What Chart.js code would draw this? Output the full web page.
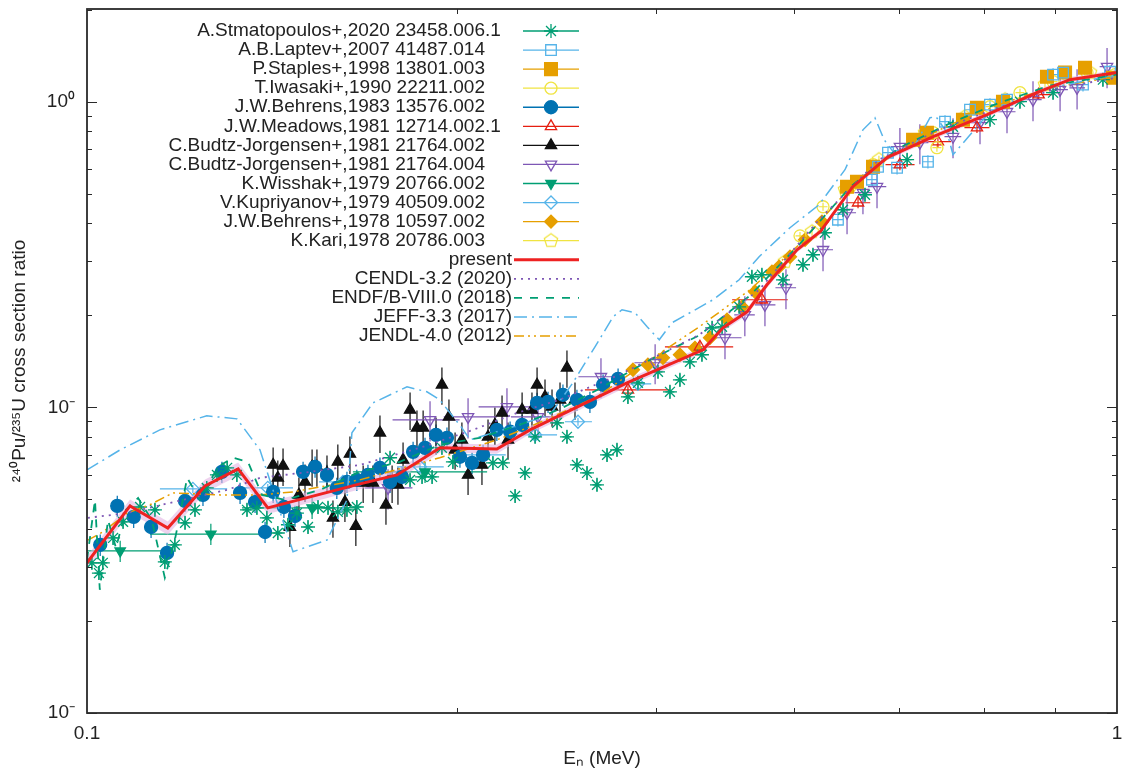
<!DOCTYPE html>
<html>
<head>
<meta charset="utf-8">
<script src="https://cdn.jsdelivr.net/npm/chart.js@4/dist/chart.umd.min.js"></script>
<style>
html, body { margin: 0; padding: 0; background: #fff; }
</style>
</head>
<body>
<canvas id="myChart" width="1124" height="774"></canvas>
<script>
// ---- axis ticks ----
const xMajorTicks = [0.1, 1]
const xMajorLabels = ['0.1', '1']
const xMinorTicks = [0.2286, 0.3571, 0.4857, 0.6143, 0.7429, 0.8714]
const yMajorTicks = [0.01, 0.1, 1]
const yMajorLabels = ['10⁻', '10⁻', '10⁰']
const yMinorTicks = [0.02, 0.03, 0.04, 0.05, 0.06, 0.07, 0.08, 0.09, 0.2, 0.3, 0.4, 0.5, 0.6, 0.7, 0.8, 0.9, 2]

// ---- experimental data ----
const stmX = [0.1011, 0.1027, 0.1036, 0.106, 0.1084, 0.1126, 0.1164, 0.119, 0.1217, 0.1245, 0.1273, 0.1307, 0.1337, 0.1368, 0.1398, 0.143, 0.1462, 0.1495, 0.1532, 0.1567, 0.1599, 0.1639, 0.1676, 0.1714, 0.1752, 0.1788, 0.1828, 0.1969, 0.2059, 0.2115, 0.2163, 0.2211, 0.2266, 0.2478, 0.2534, 0.2604, 0.2662, 0.2723, 0.286, 0.2924, 0.299, 0.3058, 0.3127, 0.3198, 0.327, 0.3351, 0.3427, 0.3584, 0.3681, 0.3764, 0.3849, 0.3954, 0.4045, 0.4136, 0.4297, 0.4421, 0.4521, 0.4739, 0.4956, 0.5068, 0.5205, 0.542, 0.5693, 0.6255, 0.6931, 0.7528, 0.805, 0.8668, 0.969]
const stmY = [0.0310, 0.0287, 0.0310, 0.0374, 0.0422, 0.0472, 0.0462, 0.0312, 0.0355, 0.0419, 0.0462, 0.0545, 0.0601, 0.0634, 0.0601, 0.0462, 0.0469, 0.0435, 0.0388, 0.0413, 0.0451, 0.0406, 0.0472, 0.0469, 0.0455, 0.0462, 0.0472, 0.0684, 0.0579, 0.0592, 0.0592, 0.0737, 0.0663, 0.0658, 0.0658, 0.0513, 0.0610, 0.0801, 0.0890, 0.0801, 0.0648, 0.0610, 0.0558, 0.0699, 0.0726, 0.1082, 0.1203, 0.1307, 0.1124, 0.1230, 0.1409, 0.1486, 0.182, 0.1834, 0.2133, 0.2674, 0.2715, 0.2614, 0.2927, 0.3157, 0.3725, 0.443, 0.496, 0.646, 0.828, 0.873, 1.0, 1.07, 1.18]

const laptevX = [0.5359, 0.5782, 0.5861, 0.5993, 0.6116, 0.6553, 0.6808, 0.7199, 0.7528, 0.782, 0.8668, 0.8864, 0.9268, 0.9845]
const laptevY = [0.411, 0.5555, 0.6126, 0.681, 0.608, 0.636, 0.860, 0.941, 0.978, 1.015, 1.226, 1.245, 1.137, 1.254]

const staplesX = [0.5469, 0.5592, 0.5796, 0.6339, 0.6538, 0.7087, 0.7312, 0.775, 0.8551, 0.8904, 0.931, 0.991]
const staplesY = [0.527, 0.547, 0.6126, 0.751, 0.7916, 0.873, 0.9559, 1.0, 1.207, 1.245, 1.292, 1.198]

const iwasakiX = [0.4923, 0.5183, 0.5506, 0.5796, 0.663, 0.6686, 0.7528, 0.805, 0.8668, 0.9352, 0.9955]
const iwasakiY = [0.364, 0.4532, 0.527, 0.622, 0.7916, 0.7069, 0.963, 1.07, 1.163, 1.245, 1.226]

const behrens83X = [0.103, 0.107, 0.111, 0.1154, 0.1196, 0.1245, 0.1296, 0.1352, 0.1408, 0.1456, 0.1489, 0.1516, 0.1553, 0.1592, 0.1621, 0.1665, 0.171, 0.1748, 0.1788, 0.1828, 0.1874, 0.1925, 0.1969, 0.2022, 0.2073, 0.2129, 0.2182, 0.2236, 0.2302, 0.2365, 0.2424, 0.25, 0.2575, 0.2645, 0.2735, 0.2803, 0.2898, 0.299, 0.3078, 0.317, 0.3278]
const behrens83Y = [0.0355, 0.0476, 0.0438, 0.0406, 0.0334, 0.0494, 0.0517, 0.0615, 0.0525, 0.0490, 0.0391, 0.0529, 0.0472, 0.0441, 0.0615, 0.0639, 0.0601, 0.0545, 0.0570, 0.0579, 0.0601, 0.0634, 0.0570, 0.0592, 0.0715, 0.0737, 0.0813, 0.0795, 0.0689, 0.0658, 0.0699, 0.0844, 0.0832, 0.0876, 0.1034, 0.1042, 0.1099, 0.1058, 0.1042, 0.1185, 0.1240]

const meadowsX = [0.3351, 0.3936, 0.4521, 0.5605, 0.6155, 0.6701, 0.7312, 0.8393]
const meadowsY = [0.1141, 0.1578, 0.2249, 0.467, 0.622, 0.7396, 0.822, 1.054]
const meadowsXlo = [0.3044, 0.364, 0.423, 0.545, 0.596, 0.650, 0.711, 0.815]
const meadowsXhi = [0.3681, 0.424, 0.479, 0.576, 0.636, 0.690, 0.752, 0.865]

const bj002X = [0.1516, 0.1532, 0.155, 0.1574, 0.1606, 0.1628, 0.1654, 0.1672, 0.171, 0.1733, 0.1752, 0.178, 0.180, 0.1824, 0.1854, 0.1895, 0.1925, 0.1951, 0.1978, 0.2004, 0.2027, 0.2059, 0.2091, 0.212, 0.2182, 0.2211, 0.2246, 0.2277, 0.2312, 0.2344, 0.2418, 0.2451, 0.2489, 0.2529, 0.2563, 0.2645, 0.2704, 0.2735, 0.2784, 0.2828, 0.2879, 0.2924, 0.2977]
const bj002Y = [0.0648, 0.0588, 0.0643, 0.0406, 0.0517, 0.0570, 0.0639, 0.0639, 0.0610, 0.0435, 0.0663, 0.0490, 0.0704, 0.0409, 0.0566, 0.0566, 0.0825, 0.0480, 0.0566, 0.0558, 0.0673, 0.0981, 0.0857, 0.0857, 0.0813, 0.1185, 0.0931, 0.0726, 0.0783, 0.0601, 0.0648, 0.0801, 0.0876, 0.0959, 0.0783, 0.0981, 0.0981, 0.1185, 0.1082, 0.1004, 0.1058, 0.1347, 0.1058]

const bj004X = [0.196, 0.2153, 0.2344, 0.2557, 0.2741, 0.3155, 0.3561, 0.4163, 0.4352, 0.4552, 0.4771, 0.5183, 0.5469, 0.5667, 0.5848, 0.6155, 0.6436, 0.6931, 0.7362, 0.782, 0.8288, 0.8805, 0.9146, 0.978]
const bj004Y = [0.0545, 0.0910, 0.0931, 0.1004, 0.0931, 0.1259, 0.1399, 0.1689, 0.2008, 0.2165, 0.2462, 0.3278, 0.4331, 0.5037, 0.527, 0.7125, 0.7342, 0.768, 0.854, 0.927, 1.015, 1.095, 1.110, 1.302]
const bj004Xlo = [0.186, 0.198, 0.222, 0.240, 0.258, 0.300, 0.340, 0.400, 0.425, 0.445, 0.466, 0.507, 0.535, 0.556, 0.573, 0.603, 0.631, 0.680, 0.722, 0.767, 0.813, 0.865, 0.899, 0.962]
const bj004Xhi = [0.207, 0.230, 0.250, 0.272, 0.290, 0.332, 0.372, 0.432, 0.445, 0.466, 0.488, 0.530, 0.558, 0.578, 0.597, 0.628, 0.656, 0.706, 0.750, 0.797, 0.845, 0.896, 0.931, 0.994]

const wisshakX = [0.1077, 0.1319, 0.1654, 0.2129]
const wisshakY = [0.0339, 0.0385, 0.0469, 0.0615]
const wisshakXlo = [0.1, 0.1151, 0.1414, 0.1812]
const wisshakXhi = [0.1198, 0.1489, 0.1824, 0.2446]

const kupriX = [0.1267, 0.1498, 0.1772, 0.2105, 0.2424, 0.2723, 0.2997, 0.3427]
const kupriY = [0.0541, 0.0545, 0.0570, 0.0639, 0.0699, 0.0813, 0.0897, 0.1194]
const kupriXlo = [0.1177, 0.1414, 0.168, 0.200, 0.231, 0.260, 0.2911, 0.333]
const kupriXhi = [0.1368, 0.1585, 0.187, 0.222, 0.255, 0.286, 0.3092, 0.353]

const behrens78X = [0.3389, 0.3504, 0.3624, 0.3764, 0.3893, 0.4026, 0.4182, 0.4324, 0.4452, 0.4624, 0.4698, 0.4814, 0.4979, 0.5171]
const behrens78Y = [0.1327, 0.1378, 0.1452, 0.1486, 0.1566, 0.1689, 0.1934, 0.2133, 0.2388, 0.2777, 0.2884, 0.311, 0.3534, 0.4049]

const kariX = [0.476, 0.5057, 0.5444, 0.5873, 0.651, 0.7118, 0.7787, 0.8513, 0.9415]
const kariY = [0.2995, 0.3753, 0.515, 0.646, 0.7916, 0.893, 1.015, 1.137, 1.245]

// relative uncertainties
const relErrY = { stm: 0.05, laptev: 0.05, staples: 0.02, iwasaki: 0.03, behrens83: 0.08, meadows: 0.04, bj002: 0.14, bj004: 0.15, wisshak: 0.08, kupri: 0.03, behrens78: 0.02, kari: 0.03 }
const relErrX = { stm: 0.01, laptev: 0.012, staples: 0, iwasaki: 0.01, behrens83: 0.015, bj002: 0, behrens78: 0, kari: 0 }

// ---- evaluations ----
const presentX = [0.1, 0.1101, 0.1198, 0.1302, 0.1402, 0.1498, 0.1841, 0.2000, 0.2202, 0.2500, 0.2692, 0.3344, 0.3963, 0.4144, 0.4373, 0.4572, 0.489, 0.515, 0.554, 0.598, 0.663, 0.748, 0.836, 0.900, 1.0]
const presentY = [0.0310, 0.0476, 0.0403, 0.0553, 0.0629, 0.0469, 0.0562, 0.0601, 0.0737, 0.0730, 0.0844, 0.1203, 0.1543, 0.182, 0.2054, 0.2518, 0.3278, 0.3753, 0.527, 0.656, 0.768, 0.907, 1.070, 1.180, 1.245]
const presentUnc = [0.05, 0.05, 0.05, 0.05, 0.05, 0.045, 0.04, 0.04, 0.035, 0.035, 0.03, 0.03, 0.025, 0.025, 0.025, 0.025, 0.02, 0.02, 0.02, 0.02, 0.02, 0.02, 0.02, 0.02, 0.02]

const cendlX = [0.1002, 0.1094, 0.1204, 0.1368, 0.1472, 0.1646, 0.184, 0.2104, 0.2371, 0.2615, 0.2875, 0.3287, 0.393, 0.4493, 0.5137, 0.5873, 0.6714, 0.7676, 0.8776, 1.0]
const cendlY = [0.0435, 0.0451, 0.0487, 0.0537, 0.0588, 0.0615, 0.0648, 0.0737, 0.0844, 0.0959, 0.1058, 0.1278, 0.1727, 0.2424, 0.411, 0.646, 0.809, 0.956, 1.11, 1.198]

const endfX = [0.1, 0.1018, 0.1029, 0.1048, 0.1067, 0.1091, 0.1121, 0.1156, 0.119, 0.1217, 0.1251, 0.1287, 0.134, 0.1386, 0.1433, 0.1479, 0.1557, 0.1683, 0.184, 0.2012, 0.22, 0.2405, 0.263, 0.2875, 0.3144, 0.3521, 0.393, 0.4402, 0.4912, 0.5506, 0.6141, 0.6885, 0.7676, 0.861, 1.0]
const endfY = [0.0317, 0.0498, 0.0253, 0.0428, 0.0347, 0.0462, 0.0505, 0.0428, 0.0277, 0.0368, 0.0588, 0.0498, 0.0639, 0.0684, 0.0663, 0.0517, 0.0498, 0.0537, 0.0615, 0.0663, 0.0754, 0.0795, 0.0876, 0.0985, 0.115, 0.143, 0.172, 0.232, 0.340, 0.525, 0.705, 0.85, 0.99, 1.13, 1.226]

const jeffX = [0.1, 0.1077, 0.1177, 0.1307, 0.1398, 0.1472, 0.1585, 0.171, 0.1788, 0.1808, 0.1895, 0.2045, 0.2138, 0.22, 0.2312, 0.2355, 0.263, 0.2815, 0.2963, 0.3113, 0.3242, 0.3307, 0.3405, 0.3498, 0.3594, 0.3698, 0.3849, 0.4053, 0.4297, 0.4493, 0.4814, 0.5137, 0.5444, 0.5667, 0.5821, 0.5941, 0.6062, 0.6368, 0.6583, 0.6672, 0.6839, 0.6931, 0.7528, 0.861, 1.0]
const jeffY = [0.0624, 0.0726, 0.0844, 0.0938, 0.0917, 0.0726, 0.0337, 0.0368, 0.0498, 0.0825, 0.1034, 0.1167, 0.1124, 0.1058, 0.0857, 0.0783, 0.0877, 0.0945, 0.1203, 0.1578, 0.1978, 0.2086, 0.2039, 0.1834, 0.1663, 0.1891, 0.2039, 0.2249, 0.2614, 0.311, 0.387, 0.46, 0.599, 0.809, 0.886, 0.751, 0.686, 0.723, 0.886, 0.893, 0.7916, 0.671, 0.927, 1.11, 1.226]

const jendlX = [0.1002, 0.1036, 0.1094, 0.1151, 0.1212, 0.1346, 0.1472, 0.1585, 0.184, 0.22, 0.25, 0.2692, 0.3127, 0.3521, 0.393, 0.4402, 0.4912, 0.5506, 0.6141, 0.6885, 0.7676, 0.861, 1.0]
const jendlY = [0.0368, 0.0391, 0.0451, 0.0480, 0.0525, 0.0517, 0.0517, 0.0529, 0.0579, 0.0684, 0.0783, 0.0864, 0.1082, 0.143, 0.1834, 0.2424, 0.3403, 0.523, 0.696, 0.84, 0.978, 1.11, 1.21]

// ---- drawing ----
const FONT = '"Liberation Sans", Arial, sans-serif'
const INK = '#222'

const mk = (xs, ys) => xs.map((x, i) => ({ x: x, y: ys[i] }))

const pentagon = (color, r) => {
    const c = document.createElement('canvas')
    c.width = c.height = 2 * r + 4
    const g = c.getContext('2d')
    g.strokeStyle = color
    g.lineWidth = 1.3
    g.beginPath()
    for (let k = 0; k < 5; k++) {
        const a = -Math.PI / 2 + k * 2 * Math.PI / 5
        const px = r + 2 + r * Math.cos(a), py = r + 2 + r * Math.sin(a)
        k ? g.lineTo(px, py) : g.moveTo(px, py)
    }
    g.closePath()
    g.stroke()
    return c
}

const exp = (label, xs, ys, color, style, extra) => Object.assign({
    label: label,
    data: mk(xs, ys),
    showLine: false,
    borderColor: color,
    backgroundColor: 'rgba(0,0,0,0)',
    pointStyle: style,
    pointRadius: 6,
    pointBorderWidth: 1.3,
    order: 2
}, extra)

const evalLine = (label, xs, ys, color, dash, width) => ({
    label: label,
    data: mk(xs, ys),
    borderColor: color,
    backgroundColor: color,
    borderWidth: width,
    borderDash: dash,
    pointRadius: 0,
    tension: 0,
    isEval: true,
    order: 1
})

const GREEN = '#009e73', SKY = '#56b4e9', ORANGE = '#e69f00', YELLOW = '#f0e442'
const BLUE = '#0072b2', RED = '#e51e10', PURPLE = '#7e57b5'

const datasets = [
    exp('A.Stmatopoulos+,2020 23458.006.1', stmX, stmY, GREEN, 'star', { pointRadius: 7, err: { y: relErrY.stm, x: relErrX.stm } }),
    exp('A.B.Laptev+,2007 41487.014', laptevX, laptevY, SKY, 'rect', { pointRadius: 7.5, err: { y: relErrY.laptev, x: relErrX.laptev } }),
    exp('P.Staples+,1998 13801.003', staplesX, staplesY, ORANGE, 'rect', { backgroundColor: ORANGE, pointRadius: 9, err: { y: relErrY.staples, x: relErrX.staples } }),
    exp('T.Iwasaki+,1990 22211.002', iwasakiX, iwasakiY, YELLOW, 'circle', { err: { y: relErrY.iwasaki, x: relErrX.iwasaki } }),
    exp('J.W.Behrens,1983 13576.002', behrens83X, behrens83Y, BLUE, 'circle', { backgroundColor: BLUE, pointRadius: 6.5, err: { y: relErrY.behrens83, x: relErrX.behrens83 } }),
    exp('J.W.Meadows,1981 12714.002.1', meadowsX, meadowsY, RED, 'triangle', { pointRadius: 6.5, err: { y: relErrY.meadows, xlo: meadowsXlo, xhi: meadowsXhi } }),
    exp('C.Budtz-Jorgensen+,1981 21764.002', bj002X, bj002Y, '#111', 'triangle', { backgroundColor: '#111', pointRadius: 6.5, err: { y: relErrY.bj002, x: relErrX.bj002 } }),
    exp('C.Budtz-Jorgensen+,1981 21764.004', bj004X, bj004Y, PURPLE, 'triangle', { rotation: 180, pointRadius: 6.5, err: { y: relErrY.bj004, xlo: bj004Xlo, xhi: bj004Xhi } }),
    exp('K.Wisshak+,1979 20766.002', wisshakX, wisshakY, GREEN, 'triangle', { backgroundColor: GREEN, rotation: 180, pointRadius: 6, err: { y: relErrY.wisshak, xlo: wisshakXlo, xhi: wisshakXhi } }),
    exp('V.Kupriyanov+,1979 40509.002', kupriX, kupriY, SKY, 'rectRot', { pointRadius: 6.5, err: { y: relErrY.kupri, xlo: kupriXlo, xhi: kupriXhi } }),
    exp('J.W.Behrens+,1978 10597.002', behrens78X, behrens78Y, ORANGE, 'rectRot', { backgroundColor: ORANGE, pointRadius: 6.5, err: { y: relErrY.behrens78, x: relErrX.behrens78 } }),
    exp('K.Kari,1978 20786.003', kariX, kariY, YELLOW, pentagon(YELLOW, 7), { err: { y: relErrY.kari, x: relErrX.kari } }),
    Object.assign(evalLine('present', presentX, presentY, '#ee2222', [], 3), { order: 0 }),
    evalLine('CENDL-3.2 (2020)', cendlX, cendlY, PURPLE, [2, 5], 1.8),
    evalLine('ENDF/B-VIII.0 (2018)', endfX, endfY, GREEN, [8, 8], 1.8),
    evalLine('JEFF-3.3 (2017)', jeffX, jeffY, SKY, [13, 5, 2, 5], 1.5),
    evalLine('JENDL-4.0 (2012)', jendlX, jendlY, ORANGE, [10, 4, 2, 4, 2, 4], 1.5),
    {
        label: 'band-lo', noKey: true, order: 3,
        data: presentX.map((x, i) => ({ x: x, y: presentY[i] * (1 - presentUnc[i]) })),
        borderWidth: 0, pointRadius: 0, borderColor: 'rgba(0,0,0,0)', fill: false
    },
    {
        label: 'band-hi', noKey: true, order: 3,
        data: presentX.map((x, i) => ({ x: x, y: presentY[i] * (1 + presentUnc[i]) })),
        borderWidth: 0, pointRadius: 0, borderColor: 'rgba(0,0,0,0)',
        backgroundColor: 'rgba(226,180,226,0.6)', fill: '-1'
    }
]

// error bars drawn from each point's own values through the scales
const errorBars = {
    id: 'errorBars',
    beforeDatasetsDraw(chart) {
        const { ctx, chartArea: a, scales: { x, y } } = chart
        ctx.save()
        ctx.beginPath()
        ctx.rect(a.left, a.top, a.right - a.left, a.bottom - a.top)
        ctx.clip()
        ctx.lineWidth = 1.2
        chart.data.datasets.forEach(ds => {
            if (!ds.err) return
            ctx.strokeStyle = ds.borderColor
            ds.data.forEach((p, j) => {
                const px = x.getPixelForValue(p.x), py = y.getPixelForValue(p.y)
                ctx.beginPath()
                ctx.moveTo(px, y.getPixelForValue(p.y * (1 - ds.err.y)))
                ctx.lineTo(px, y.getPixelForValue(p.y * (1 + ds.err.y)))
                const lo = ds.err.xlo ? ds.err.xlo[j] : p.x * (1 - ds.err.x)
                const hi = ds.err.xhi ? ds.err.xhi[j] : p.x * (1 + ds.err.x)
                if (hi > lo) {
                    ctx.moveTo(x.getPixelForValue(lo), py)
                    ctx.lineTo(x.getPixelForValue(hi), py)
                }
                ctx.stroke()
            })
        })
        ctx.restore()
    }
}

// gnuplot-like frame with inward ticks on all four sides
const frame = {
    id: 'frame',
    afterDatasetsDraw(chart) {
        const { ctx, chartArea: a, scales: { x, y } } = chart
        ctx.save()
        ctx.strokeStyle = '#2a2a2a'
        ctx.lineWidth = 1
        const tick = (vals, len, horiz) => vals.forEach(v => {
            ctx.beginPath()
            if (horiz) {
                const px = Math.round(x.getPixelForValue(v)) + 0.5
                ctx.moveTo(px, a.bottom); ctx.lineTo(px, a.bottom - len)
                ctx.moveTo(px, a.top); ctx.lineTo(px, a.top + len)
            } else {
                const py = Math.round(y.getPixelForValue(v)) + 0.5
                ctx.moveTo(a.left, py); ctx.lineTo(a.left + len, py)
                ctx.moveTo(a.right, py); ctx.lineTo(a.right - len, py)
            }
            ctx.stroke()
        })
        tick(xMinorTicks, 5, true)
        tick(yMajorTicks, 10, false)
        tick(yMinorTicks, 5, false)
        ctx.lineWidth = 1.8
        ctx.strokeRect(a.left, a.top, a.right - a.left, a.bottom - a.top)
        ctx.restore()
    }
}

// key in the upper left, text right-justified, sample on the right
const key = {
    id: 'key',
    afterDraw(chart) {
        const ctx = chart.ctx
        const H = Chart.helpers
        ctx.save()
        ctx.font = '19px ' + FONT
        ctx.textAlign = 'right'
        ctx.textBaseline = 'middle'
        let row = 0
        chart.data.datasets.forEach(ds => {
            if (ds.noKey) return
            const yy = 31 + row * 19.06
            row++
            ctx.fillStyle = INK
            if (ds.isEval) {
                ctx.fillText(ds.label, 512, yy)
                ctx.strokeStyle = ds.borderColor
                ctx.lineWidth = ds.borderWidth
                ctx.setLineDash(ds.borderDash)
                ctx.beginPath(); ctx.moveTo(514, yy); ctx.lineTo(579, yy); ctx.stroke()
                ctx.setLineDash([])
            } else {
                const extra = ds.label.endsWith('.1') ? ctx.measureText('.1').width : 0
                ctx.fillText(ds.label, 485 + extra, yy)
                ctx.strokeStyle = ds.borderColor
                ctx.lineWidth = 1.3
                ctx.beginPath(); ctx.moveTo(523, yy); ctx.lineTo(579, yy); ctx.stroke()
                ctx.fillStyle = ds.backgroundColor
                H.drawPoint(ctx, { pointStyle: ds.pointStyle, rotation: ds.rotation || 0, radius: ds.pointRadius, borderWidth: 1.3 }, 551, yy)
            }
        })
        ctx.restore()
    }
}

const ctx = document.getElementById('myChart').getContext('2d')
new Chart(ctx, {
    type: 'line',
    data: { datasets: datasets },
    options: {
        responsive: false,
        animation: false,
        devicePixelRatio: 1,
        layout: { autoPadding: false, padding: { top: 9, right: 7, left: 0, bottom: 0 } },
        plugins: { legend: { display: false }, tooltip: { enabled: false } },
        scales: {
            x: {
                type: 'logarithmic',
                min: 0.1,
                max: 1,
                afterBuildTicks: s => { s.ticks = xMajorTicks.map(v => ({ value: v })) },
                afterFit: s => { s.height = 61; s.paddingLeft = 0; s.paddingRight = 0 },
                grid: { display: true, drawOnChartArea: false, drawTicks: false, color: 'rgba(0,0,0,0)' },
                border: { display: false },
                ticks: {
                    autoSkip: false, maxRotation: 0, padding: 9, color: INK,
                    font: { family: FONT, size: 19 },
                    callback: v => { const i = xMajorTicks.findIndex(t => Math.abs(t - v) < 1e-9); return i < 0 ? '' : xMajorLabels[i] }
                },
                title: { display: true, text: 'Eₙ (MeV)', color: INK, font: { family: FONT, size: 19 }, padding: { top: 0, bottom: 4 } }
            },
            y: {
                type: 'logarithmic',
                min: 0.01,
                max: 2.01,
                afterBuildTicks: s => { s.ticks = yMajorTicks.map(v => ({ value: v })) },
                afterFit: s => { s.width = 87; s.paddingTop = 0; s.paddingBottom = 0 },
                grid: { display: true, drawOnChartArea: false, drawTicks: false, color: 'rgba(0,0,0,0)' },
                border: { display: false },
                ticks: {
                    autoSkip: false, padding: 12, color: INK,
                    font: { family: FONT, size: 19 },
                    callback: v => { const i = yMajorTicks.findIndex(t => Math.abs(t - v) < 1e-12); return i < 0 ? '' : yMajorLabels[i] }
                },
                title: { display: true, text: '²⁴⁰Pu/²³⁵U cross section ratio', color: INK, font: { family: FONT, size: 19 }, padding: { top: 8, bottom: 0 } }
            }
        }
    },
    plugins: [errorBars, frame, key]
})
</script>
</body>
</html>
